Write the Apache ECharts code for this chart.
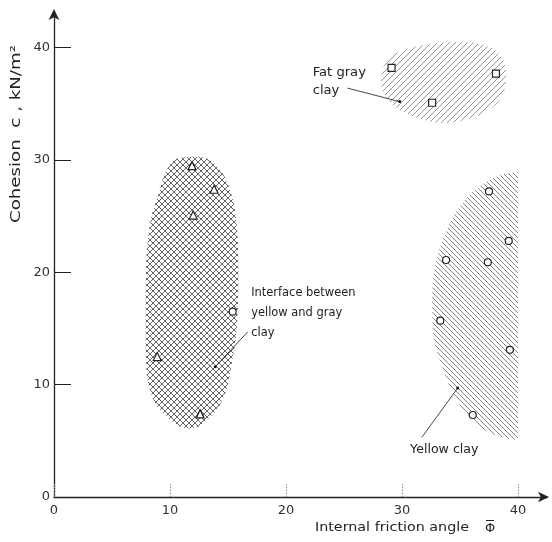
<!DOCTYPE html>
<html>
<head>
<meta charset="utf-8">
<script src="https://cdn.jsdelivr.net/npm/echarts@6/dist/echarts.min.js"></script>
<style>
html,body{margin:0;padding:0;background:#fff;}
#chart{width:552px;height:542px;}
</style>
</head>
<body>
<div id="chart"></div>
<script>
// ---- data ----
const xTicks = [0, 10, 20, 30, 40];
const yTicks = [0, 10, 20, 30, 40];
const yTickMarks = [10, 20, 30, 40];

// test points [friction angle, cohesion]
const fatGrayClayPts = [[29.1, 38.2], [38.1, 37.7], [32.6, 35.1]];
const interfaceTriPts = [[11.9, 29.5], [13.8, 27.4], [12.0, 25.1], [8.9, 12.5], [12.6, 7.4]];
const interfaceCircPts = [[15.4, 16.5]];
const yellowClayPts = [[37.5, 27.2], [39.2, 22.8], [33.8, 21.1], [37.4, 20.9], [33.3, 15.7], [39.3, 13.1], [36.1, 7.3]];

// zone outlines [friction angle, cohesion]
const fatGrayZone = [[28.2, 37.3], [28.8, 38.9], [30.2, 39.8], [32.4, 40.3], [35.0, 40.5], [37.1, 40.2], [38.4, 39.4],
  [39.0, 37.8], [38.8, 36.1], [37.7, 34.6], [35.8, 33.7], [33.7, 33.3], [31.5, 33.7], [29.8, 34.5], [28.6, 35.7]];
const interfaceZone = [[10.8, 30.2], [12.6, 30.3], [13.9, 29.6], [15.0, 27.8], [15.7, 24.7], [15.9, 20.2], [15.8, 15.7],
  [15.3, 11.7], [14.5, 8.6], [13.0, 6.7], [11.7, 6.1], [10.0, 6.9], [8.4, 9.1], [7.9, 13.1], [7.9, 18.5], [8.2, 23.8],
  [9.1, 27.3], [9.8, 29.3]];
const yellowZone = [[40.0, 28.9], [38.9, 28.8], [36.9, 27.8], [35.1, 26.0], [33.8, 23.6], [32.9, 20.7], [32.6, 17.5],
  [32.7, 14.4], [33.4, 11.8], [34.4, 9.3], [35.8, 7.1], [37.6, 5.7], [40.0, 5.1], [40.0, 10.0], [40.0, 17.0], [40.0, 24.0]];

const annotationTexts = ['Fat gray\nclay', 'Interface between\nyellow and gray\nclay', 'Yellow clay'];
const yAxisTitle = 'Cohesion  c , kN/m\u00B2';
const xAxisTitle = 'Internal friction angle';
const xAxisSymbol = '\u03A6';

// ---- layout (positions in data units) ----
const annotationLayout = [
  { at: [22.3, 37.0], from: [25.3, 36.4], to: [29.8, 35.2], lh: 18, fs: 12.5, sx: 1.05 },
  { at: [17.0, 16.4], from: [16.7, 14.7], to: [13.9, 11.6], lh: 20, fs: 13, sx: 0.88 },
  { at: [30.7, 4.2], from: [31.7, 5.3], to: [34.8, 9.7], lh: 16, fs: 12, sx: 1.05 }
];

const FONT = '"DejaVu Sans", sans-serif';

function hatch(size, dirs, color, lw) {
  const c = document.createElement('canvas');
  c.width = c.height = size;
  const g = c.getContext('2d');
  g.strokeStyle = color;
  g.lineWidth = lw;
  dirs.forEach(function (d) {
    g.beginPath();
    if (d === '/') {
      g.moveTo(-1, size + 1); g.lineTo(size + 1, -1);
      g.moveTo(-1, 1); g.lineTo(1, -1);
      g.moveTo(size - 1, size + 1); g.lineTo(size + 1, size - 1);
    } else {
      g.moveTo(-1, -1); g.lineTo(size + 1, size + 1);
      g.moveTo(size - 1, -1); g.lineTo(size + 1, 1);
      g.moveTo(-1, size - 1); g.lineTo(1, size + 1);
    }
    g.stroke();
  });
  return c;
}
const patFat = { image: hatch(6, ['/'], '#7a7a7a', 0.8), repeat: 'repeat' };
const patYellow = { image: hatch(5, ['\\'], '#666', 0.8), repeat: 'repeat' };
const patInterface = { image: hatch(6, ['/', '\\'], '#555', 0.9), repeat: 'repeat' };

function zoneSeries(zone, pattern) {
  return {
    type: 'custom',
    coordinateSystem: 'cartesian2d',
    clip: false,
    silent: true,
    z: 1,
    data: [[0]],
    renderItem: function (params, api) {
      const pts = zone.map(function (p) { return api.coord(p); });
      let minX = Infinity, minY = Infinity;
      pts.forEach(function (p) { minX = Math.min(minX, p[0]); minY = Math.min(minY, p[1]); });
      return {
        type: 'polygon',
        shape: { points: pts, smooth: 0.45, smoothConstraint: [[minX, minY], [minX, minY]] },
        style: { fill: pattern, stroke: null }
      };
    }
  };
}

function markerSeries(pts, symbol, size) {
  return {
    type: 'scatter',
    data: pts,
    symbol: symbol,
    symbolSize: size,
    z: 5,
    itemStyle: { color: '#fff', borderColor: '#222', borderWidth: 1.2, opacity: 1 },
    emphasis: { disabled: true }
  };
}

const chart = echarts.init(document.getElementById('chart'), null, { renderer: 'canvas' });
chart.setOption({
  animation: false,
  backgroundColor: '#fff',
  grid: { left: 54, right: 5, top: 14, bottom: 45, containLabel: false },
  xAxis: {
    type: 'value', min: 0, max: 42.5,
    axisLine: { show: true, symbol: ['none', 'arrow'], symbolSize: [8, 11], symbolOffset: [0, 2], lineStyle: { color: '#222', width: 1.3 } },
    axisTick: { show: true, inside: true, length: 13, customValues: xTicks, lineStyle: { color: '#888', width: 1, type: [1.5, 1.5] } },
    axisLabel: { show: true, customValues: xTicks, margin: 7, color: '#333', fontSize: 13, fontFamily: FONT },
    splitLine: { show: false }
  },
  yAxis: {
    type: 'value', min: 0, max: 43,
    axisLine: { show: true, symbol: ['none', 'arrow'], symbolSize: [8, 11], symbolOffset: [0, 5], lineStyle: { color: '#222', width: 1.3 } },
    axisTick: { show: true, inside: true, length: 17, customValues: yTickMarks, lineStyle: { color: '#222', width: 1 } },
    axisLabel: { show: true, customValues: yTicks, margin: 4, color: '#333', fontSize: 13, fontFamily: FONT },
    splitLine: { show: false }
  },
  graphic: [
    { type: 'text', x: 16, y: 134, rotation: Math.PI / 2, scaleX: 1.3,
      style: { text: yAxisTitle, align: 'center', verticalAlign: 'middle', fontSize: 14, fontFamily: FONT, fill: '#222' } },
    { type: 'text', x: 469, y: 528, scaleX: 1.1,
      style: { text: xAxisTitle, align: 'right', verticalAlign: 'middle', fontSize: 13, fontFamily: FONT, fill: '#222' } },
    { type: 'text', x: 490, y: 529,
      style: { text: xAxisSymbol, align: 'center', verticalAlign: 'middle', fontSize: 13, fontFamily: FONT, fill: '#222' } },
    { type: 'line', shape: { x1: 486, y1: 520.5, x2: 494, y2: 520.5 }, style: { stroke: '#222', lineWidth: 1 } }
  ],
  series: [
    zoneSeries(fatGrayZone, patFat),
    zoneSeries(interfaceZone, patInterface),
    zoneSeries(yellowZone, patYellow),
    markerSeries(fatGrayClayPts, 'rect', 7),
    markerSeries(interfaceTriPts, 'triangle', 8),
    markerSeries(interfaceCircPts, 'circle', 7),
    markerSeries(yellowClayPts, 'circle', 7),
    {
      type: 'custom',
      coordinateSystem: 'cartesian2d',
      clip: false,
      silent: true,
      z: 6,
      data: annotationTexts.map(function (t, i) { return [i]; }),
      renderItem: function (params, api) {
        const a = annotationLayout[params.dataIndex];
        const t = api.coord(a.at), f = api.coord(a.from), e = api.coord(a.to);
        return {
          type: 'group',
          children: [
            { type: 'line', shape: { x1: f[0], y1: f[1], x2: e[0], y2: e[1] }, style: { stroke: '#333', lineWidth: 0.9 } },
            { type: 'circle', shape: { cx: e[0], cy: e[1], r: 1.5 }, style: { fill: '#111' } },
            { type: 'text', x: t[0], y: t[1], scaleX: a.sx,
              style: { text: annotationTexts[params.dataIndex], align: 'left', verticalAlign: 'middle',
                lineHeight: a.lh, fontSize: a.fs, fontFamily: FONT, fill: '#222' } }
          ]
        };
      }
    }
  ]
});
</script>
</body>
</html>
